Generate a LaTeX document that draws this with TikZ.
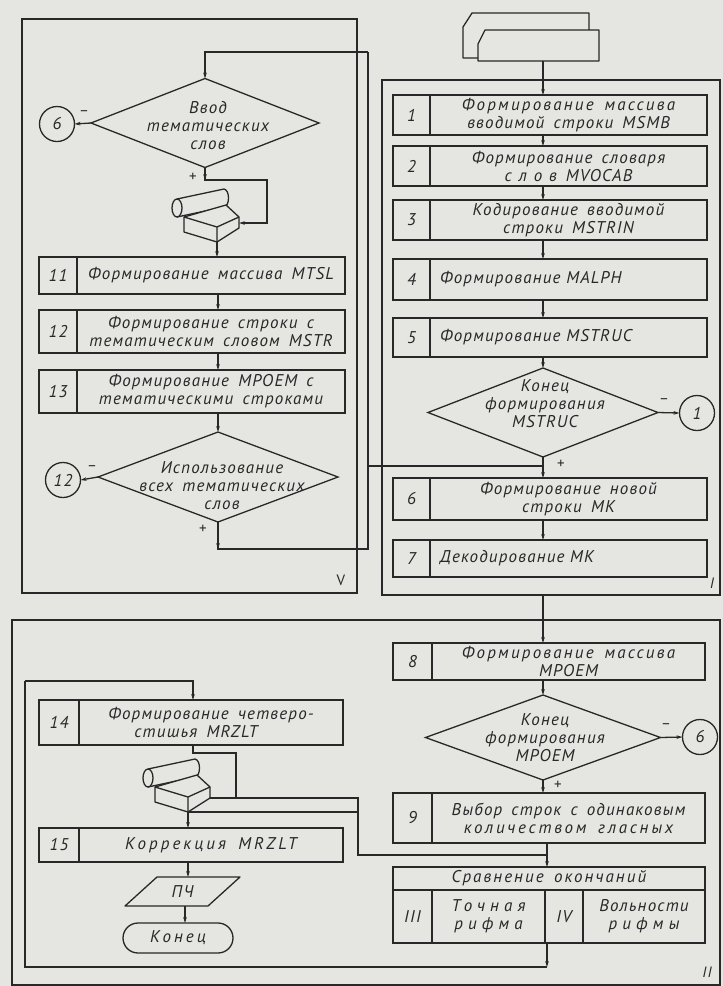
\documentclass[tikz,border=0pt]{standalone}
\usepackage{fontspec}
\setmainfont{PT Sans}
\newfontfamily\gost{PT Sans}[LetterSpace=7,WordSpace=1.6]
\usetikzlibrary{shapes.geometric,shapes.misc,arrows.meta,calc}
\definecolor{paper}{RGB}{229,229,226}
\definecolor{ink}{RGB}{40,40,40}
\tikzset{
 ln/.style={line width=1.3pt, draw=ink},
 arr/.style={ln, -{Stealth[length=6pt,width=3.6pt]}},
 txt/.style={font=\gost\itshape\fontsize{17}{18}\selectfont, text=ink, align=center, inner sep=0pt, outer sep=0pt},
 cell/.style={ln, txt},
 dia/.style={ln, diamond, inner sep=0pt, outer sep=0pt},
 conn/.style={ln, circle, minimum size=35pt, txt},
 lbl/.style={txt, font=\gost\fontsize{15}{15}\selectfont},
 tapeunit/.pic={
  \draw[ln, fill=paper, line join=round] (-30,-18) -- (17,-28) .. controls (23,-27) and (23,-11) .. (17,-10) -- (-30,0);
  \draw[ln, fill=paper] (-30,-9) ellipse [x radius=5pt, y radius=9pt];
  \draw[ln, fill=paper, line join=round] (-23,0) -- (19,-12) -- (32,0) -- (32,11) -- (10,25) -- (-23,15) -- cycle;
  \draw[ln, line join=round] (-23,0) -- (10,10) -- (32,0) (10,10) -- (10,25);
  \coordinate (-in) at (32,6);
  \coordinate (-rb) at (32,11);
  \coordinate (-fb) at (10,25);
 }
}
% name, x-left, x-divider, x-right, y-top, y-bottom, number, text
\newcommand\fcblock[8]{%
 \pgfmathsetmacro\fcA{#3-#2}\pgfmathsetmacro\fcB{#4-#3}\pgfmathsetmacro\fcH{#6-#5}%
 \pgfmathsetmacro\fcX{(#2+#3)/2}\pgfmathsetmacro\fcY{(#5+#6)/2}\pgfmathsetmacro\fcXX{(#3+#4)/2}%
 \node[cell,minimum width=\fcA pt,minimum height=\fcH pt] (#1n) at (\fcX,\fcY) {#7};
 \node[cell,minimum width=\fcB pt,minimum height=\fcH pt] (#1) at (\fcXX,\fcY) {#8};}
% same, text set flush left with an indent
\newcommand\fcblockL[8]{%
 \pgfmathsetmacro\fcA{#3-#2}\pgfmathsetmacro\fcB{#4-#3}\pgfmathsetmacro\fcH{#6-#5}%
 \pgfmathsetmacro\fcX{(#2+#3)/2}\pgfmathsetmacro\fcY{(#5+#6)/2}\pgfmathsetmacro\fcXX{(#3+#4)/2}%
 \pgfmathsetmacro\fcT{#4-#3-20}%
 \node[cell,minimum width=\fcA pt,minimum height=\fcH pt] (#1n) at (\fcX,\fcY) {#7};
 \node[cell,align=left,text width=\fcT pt,minimum width=\fcB pt,minimum height=\fcH pt] (#1) at (\fcXX,\fcY) {#8};}
\begin{document}
\begin{tikzpicture}[x=1pt,y=-1pt]
\fill[paper] (0,0) rectangle (723,986);
\useasboundingbox (0,0) rectangle (723,986);

% ---------- panel V ----------
\draw[ln] (22,19) rectangle (357,593);
\node[lbl] (labV) at (341,580) {V};
\node[dia, minimum width=228pt, minimum height=89pt] (d1) at (205,123) {};
\node[txt] (d1t) at (208,126) {Ввод\\тематических\\слов};
\node[conn] (c6a) at (57,124) {6};
\draw[arr] (d1.west) -- (c6a.east);
\node[lbl] (m1) at (84,113) {–};
\node[lbl] (p1) at (193,177) {+};
\pic (tapeA) at (207,217) {tapeunit};
\coordinate (ta) at (267,180);
\draw[arr] (d1.south) -- (d1.south |- ta);
\draw[arr] (d1.south) |- (ta) |- (tapeA-in);
\coordinate (xV) at (218,0);
\fcblock{b11}{39}{77}{345}{257}{294}{11}{Формирование массива MTSL}
\fcblock{b12}{39}{77}{345}{310}{353}{12}{Формирование строки с\\тематическим словом MSTR}
\fcblock{b13}{39}{77}{345}{370}{413}{13}{Формирование MPOEM с\\тематическими строками}
\draw[arr] (tapeA-fb) -- (tapeA-fb |- b11.north);
\draw[arr] (b11.south -| xV) -- (b12.north -| xV);
\draw[arr] (b12.south -| xV) -- (b13.north -| xV);
\node[dia, minimum width=240pt, minimum height=90pt] (d5) at (218,477) {};
\node[txt] (d5t) at (222,486) {Использование\\всех тематических\\слов};
\draw[arr] (b13.south -| d5) -- (d5.north);
\node[conn] (c12) at (63,480) {12};
\draw[arr] (d5.west) -- (c12.east);
\node[lbl] (m5) at (92,468) {–};
\node[lbl] (p5) at (203,529) {+};
\coordinate (qa) at (368,52);
\coordinate (qb) at (368,549);
\coordinate (qc) at (368,466);
\draw[arr] (d5.south) -- (d5.south |- qb);
\draw[ln] (d5.south) |- (qb) -- (qa);
\draw[arr] (qa) -| (d1.north);

% ---------- panel I ----------
\draw[ln] (382,80) rectangle (720,595);
\node[lbl, font=\gost\itshape\fontsize{15}{15}\selectfont] (labI) at (712,583) {I};
\draw[ln, line join=round] (478,58) -- (463,58) -- (463,27) -- (472,13) -- (589,13) -- (589,30);
\draw[ln, line join=round] (478,44) -- (485,30) -- (599,30) -- (599,61) -- (478,61) -- cycle;
\coordinate (cardbot) at (543,61);
\coordinate (xI) at (543,0);
\fcblock{b1}{393}{430}{707}{95}{135}{1}{{\addfontfeature{LetterSpace=13}Формирование массива}\\вводимой строки MSMB}
\fcblock{b2}{393}{430}{707}{146}{186}{2}{Формирование словаря\\{\addfontfeature{LetterSpace=40}слов} MVOCAB}
\fcblock{b3}{393}{430}{707}{200}{240}{3}{Кодирование вводимой\\строки MSTRIN}
\fcblockL{b4}{393}{430}{707}{259}{300}{4}{Формирование MALPH}
\fcblockL{b5}{393}{430}{707}{318}{357}{5}{Формирование MSTRUC}
\draw[arr] (cardbot) -- (cardbot |- b1.north);
\draw[arr] (b1.south -| xI) -- (b2.north -| xI);
\draw[arr] (b2.south -| xI) -- (b3.north -| xI);
\draw[arr] (b3.south -| xI) -- (b4.north -| xI);
\draw[arr] (b4.south -| xI) -- (b5.north -| xI);
\node[dia, minimum width=230pt, minimum height=89pt] (d2) at (543,412.5) {};
\node[txt] (d2t) at (545,404) {Конец\\формирования\\MSTRUC};
\draw[arr] (b5.south -| xI) -- (d2.north);
\node[conn] (c1) at (697,413) {1};
\draw[arr] (d2.east) -- (c1.west);
\node[lbl] (m2) at (664,401) {–};
\node[lbl] (p2) at (561,464) {+};
\fcblock{b6}{393}{430}{707}{478}{520}{6}{Формирование новой\\строки MK}
\fcblockL{b7}{393}{430}{707}{540}{577}{7}{Декодирование MK}
\draw[arr] (d2.south) -- (d2.south |- b6.north);
\draw[ln] (qc) -- (qc -| xI);
\draw[arr] (b6.south -| xI) -- (b7.north -| xI);

% ---------- panel II ----------
\draw[ln] (12,620) rectangle (720,985);
\node[lbl, font=\gost\itshape\fontsize{15}{15}\selectfont] (labII) at (707,972) {II};
\coordinate (pIb) at (543,595);
\fcblock{b8}{393}{432}{705}{643}{680}{8}{{\addfontfeature{LetterSpace=13}Формирование массива}\\MPOEM}
\draw[arr] (pIb) -- (pIb |- b8.north);
\node[dia, minimum width=235pt, minimum height=85pt] (d3) at (543,737.5) {};
\node[txt] (d3t) at (545,738) {Конец\\формирования\\MPOEM};
\draw[arr] (b8.south -| d3) -- (d3.north);
\node[conn] (c6b) at (700,737) {6};
\draw[arr] (d3.east) -- (c6b.west);
\node[lbl] (m3) at (666,726) {–};
\node[lbl] (p3) at (558,785) {+};
\fcblock{b9}{393}{432}{705}{793}{843}{9}{Выбор строк с одинаковым\\{\addfontfeature{LetterSpace=16}количеством гласных}}
\draw[arr] (d3.south) -- (d3.south |- b9.north);
\node[cell, minimum width=312pt, minimum height=23pt] (tabh) at (549,878.5) {{\addfontfeature{LetterSpace=12}Сравнение окончаний}};
\fcblock{t3}{393}{432}{545}{890}{943}{III}{{\addfontfeature{LetterSpace=30}Точная}\\{\addfontfeature{LetterSpace=30}рифма}}
\fcblock{t4}{545}{583}{705}{890}{943}{IV}{Вольности\\{\addfontfeature{LetterSpace=30}рифмы}}
\coordinate (xT) at (547,0);
\draw[arr] (b9.south -| xT) -- (tabh.north -| xT);
\coordinate (lpR) at (547,967);
\coordinate (lpL) at (25,967);
\coordinate (lpT) at (25,681);
\coordinate (x14) at (193,0);
\draw[arr] (t3.south -| xT) -- (lpR);
\draw[ln] (lpR) -- (lpL) -- (lpT);
\fcblock{b14}{39}{79}{343}{700}{745}{14}{Формирование четверо-\\\hspace*{-30pt}стишья MRZLT}
\draw[arr] (lpT) -| (b14.north -| x14);
\pic (tapeB) at (178,787) {tapeunit};
\coordinate (k1) at (236,753);
\coordinate (k2) at (358,798);
\coordinate (k3) at (358,855);
\draw[ln] (b14.south -| x14) |- (k1) -- (k1 |- tapeB-rb);
\draw[ln] (tapeB-rb) -- (k2) -- (k3) -- (k3 -| xT);
\draw[ln] (tapeB-fb) -- (tapeB-fb -| k2);
\fcblock{b15}{39}{79}{343}{828}{862}{15}{{\addfontfeature{LetterSpace=18}Коррекция MRZLT}}
\draw[arr] (tapeB-fb) -- (tapeB-fb |- b15.north);
\node[txt, minimum width=83pt, minimum height=29pt] (pch) at (182.5,891.5) {ПЧ};
\draw[ln, line join=round] (157,877) -- (240,877) -- (208,906) -- (125,906) -- cycle;
\draw[arr] (b15.south -| tapeB-fb) -- (pch.north -| tapeB-fb);
\node[cell, rounded rectangle, minimum width=110pt, minimum height=30pt] (endn) at (178,938) {{\addfontfeature{LetterSpace=18}Конец}};
\coordinate (x15) at (185,0);
\draw[arr] (pch.south -| x15) -- (endn.north -| x15);
\end{tikzpicture}
\end{document}
